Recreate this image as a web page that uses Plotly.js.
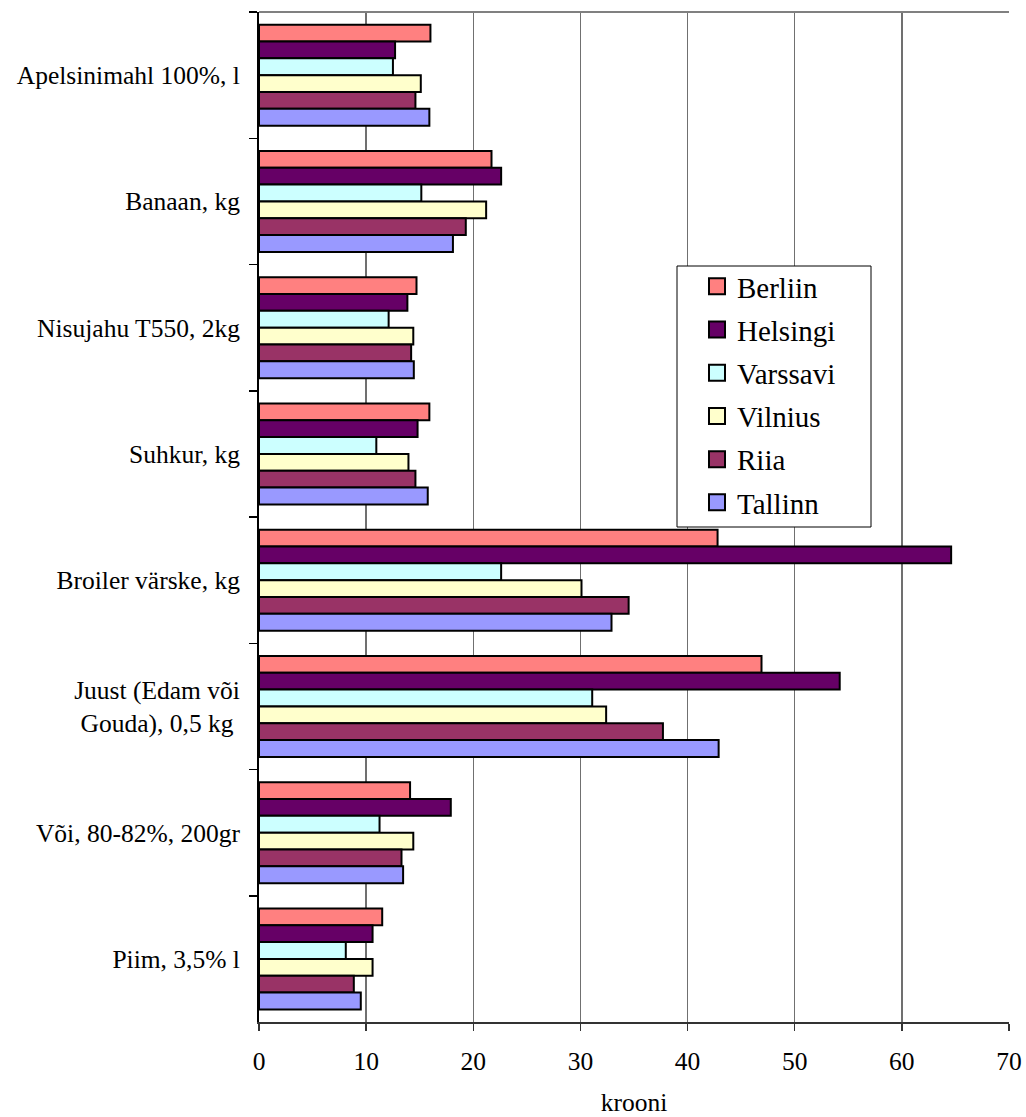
<!DOCTYPE html>
<html>
<head>
<meta charset="utf-8">
<script src="https://cdn.plot.ly/plotly-3.0.1.min.js"></script>
<style>
html,body{margin:0;padding:0;background:#fff;}
#chart{width:1026px;height:1117px;}
</style>
</head>
<body>
<div id="chart"></div>
<script>
var categories = [
  "Apelsinimahl 100%, l",
  "Banaan, kg",
  "Nisujahu T550, 2kg",
  "Suhkur, kg",
  "Broiler värske, kg",
  "Juust (Edam või<br>Gouda), 0,5 kg&nbsp;",
  "Või, 80-82%, 200gr",
  "Piim, 3,5% l"
];
var seriesNames = ["Berliin", "Helsingi", "Varssavi", "Vilnius", "Riia", "Tallinn"];
var berliin  = [16.0, 21.7, 14.7, 15.9, 42.8, 46.9, 14.1, 11.5];
var helsingi = [12.7, 22.6, 13.85, 14.8, 64.6, 54.2, 17.9, 10.6];
var varssavi = [12.5, 15.15, 12.1, 10.95, 22.6, 31.1, 11.25, 8.1];
var vilnius  = [15.1, 21.2, 14.4, 13.95, 30.1, 32.4, 14.4, 10.6];
var riia     = [14.6, 19.3, 14.2, 14.6, 34.5, 37.7, 13.3, 8.85];
var tallinn  = [15.9, 18.1, 14.45, 15.75, 32.9, 42.9, 13.45, 9.5];
var xTicks = [0, 10, 20, 30, 40, 50, 60, 70];
var xTitle = "krooni";

var seriesValues = [berliin, helsingi, varssavi, vilnius, riia, tallinn];
var colors = ["#FF8080", "#660066", "#CCFFFF", "#FFFFCC", "#993366", "#9999FF"];
var FONT = '"Liberation Serif", "Times New Roman", Times, serif';

// plot area in pixels (for converting the legend box to paper coords)
var ML = 259, MR = 17, MT = 12, MB = 95, W = 1026, H = 1117;
var PW = W - ML - MR, PH = H - MT - MB;
function px2x(p){ return (p - ML) / PW; }
function px2y(p){ return 1 - (p - MT) / PH; }

var traces = [];
seriesNames.forEach(function(name, i){
  traces.push({
    type: "bar",
    orientation: "h",
    name: name,
    y: categories,
    x: seriesValues[i],
    marker: {color: colors[i], line: {color: "#000", width: 2}},
    showlegend: false,
    hoverinfo: "x+name"
  });
});
seriesNames.forEach(function(name, i){
  traces.push({
    type: "scatter",
    mode: "markers",
    name: name,
    legendgroup: "g" + i,
    x: [null],
    y: [null],
    marker: {symbol: "square", size: 18, color: colors[i], line: {color: "#000", width: 2}},
    showlegend: true,
    hoverinfo: "skip"
  });
});

var layout = {
  width: W,
  height: H,
  margin: {l: ML, r: MR, t: MT, b: MB},
  paper_bgcolor: "#fff",
  plot_bgcolor: "#fff",
  barmode: "group",
  bargap: 0.2,
  bargroupgap: 0,
  font: {family: FONT, size: 25.5, color: "#000"},
  xaxis: {
    range: [0, 70],
    tickvals: xTicks,
    ticktext: xTicks.map(String),
    showgrid: true,
    gridcolor: "#707070",
    gridwidth: 1.3,
    zeroline: false,
    showline: true,
    linecolor: "#333",
    linewidth: 2,
    ticks: "outside",
    ticklen: 7,
    tickcolor: "#333",
    tickwidth: 1.5,
    ticklabelstandoff: 8,
    tickfont: {family: FONT, size: 25.5, color: "#000"},
    title: {text: xTitle, font: {family: FONT, size: 25.5, color: "#000"}, standoff: 39},
    fixedrange: true
  },
  yaxis: {
    type: "category",
    categoryorder: "array",
    categoryarray: categories,
    autorange: "reversed",
    showgrid: false,
    zeroline: false,
    showline: true,
    linecolor: "#000",
    linewidth: 2,
    ticks: "outside",
    tickson: "boundaries",
    ticklen: 8,
    tickcolor: "#000",
    tickwidth: 1.5,
    ticklabelstandoff: 12,
    tickfont: {family: FONT, size: 25.5, color: "#000"},
    fixedrange: true
  },
  legend: {
    x: px2x(697),
    y: px2y(261),
    xanchor: "left",
    yanchor: "top",
    bgcolor: "rgba(0,0,0,0)",
    borderwidth: 0,
    font: {family: FONT, size: 29, color: "#000"},
    traceorder: "grouped",
    tracegroupgap: 2.5
  },
  shapes: [
    {type: "line", xref: "paper", yref: "paper", x0: 0, x1: 1, y0: 1, y1: 1,
     line: {color: "#808080", width: 2}},
    {type: "rect", xref: "paper", yref: "paper", layer: "above",
     x0: px2x(677), x1: px2x(871), y0: px2y(527), y1: px2y(266),
     fillcolor: "#fff", line: {color: "#000", width: 1}}
  ]
};

Plotly.newPlot("chart", traces, layout, {displayModeBar: false, staticPlot: true});
</script>
</body>
</html>
